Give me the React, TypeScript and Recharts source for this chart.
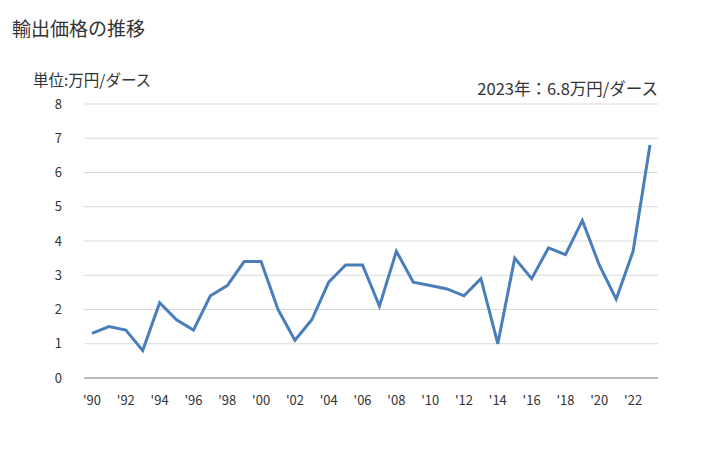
import * as React from "react";
import { LineChart, Line, XAxis, YAxis, CartesianGrid } from "recharts";

const years = [
  "1990", "1991", "1992", "1993", "1994", "1995", "1996", "1997", "1998", "1999",
  "2000", "2001", "2002", "2003", "2004", "2005", "2006", "2007", "2008", "2009",
  "2010", "2011", "2012", "2013", "2014", "2015", "2016", "2017", "2018", "2019",
  "2020", "2021", "2022", "2023",
];
const prices = [
  1.3, 1.5, 1.4, 0.8, 2.2, 1.7, 1.4, 2.4, 2.7, 3.4,
  3.4, 2.0, 1.1, 1.7, 2.8, 3.3, 3.3, 2.1, 3.7, 2.8,
  2.7, 2.6, 2.4, 2.9, 1.0, 3.5, 2.9, 3.8, 3.6, 4.6,
  3.3, 2.3, 3.7, 6.8,
];
const yTicks = [0, 1, 2, 3, 4, 5, 6, 7, 8];

const data = years.map((y, i) => ({ year: y, price: prices[i] }));

const font = '"Noto Sans CJK JP", "Noto Sans", sans-serif';
const textColor = "#333";

export default function App() {
  return (
    <div style={{ position: "absolute", left: 0, top: 0, width: 728, height: 450, background: "#fff", fontFamily: font, color: textColor }}>
      <div style={{ position: "absolute", left: 12, top: 18, fontSize: 19, lineHeight: 1 }}>輸出価格の推移</div>
      <div style={{ position: "absolute", left: 33, top: 72, fontSize: 15.5, lineHeight: 1 }}>単位:万円/ダース</div>
      <div style={{ position: "absolute", right: 70, top: 80, fontSize: 16.5, lineHeight: 1 }}>2023年：6.8万円/ダース</div>
      <LineChart width={728} height={450} data={data} margin={{ top: 104, right: 70, bottom: 0, left: 0 }}>
        <CartesianGrid vertical={false} stroke="#d9d9d9" />
        <XAxis
          dataKey="year"
          interval={1}
          padding={{ left: 8, right: 8 }}
          tickLine={false}
          axisLine={{ stroke: "#888" }}
          tickMargin={12}
          height={72}
          tickFormatter={(v: string) => "'" + v.slice(2)}
          tick={{ fill: textColor, fontSize: 13, fontFamily: font }}
        />
        <YAxis
          domain={[0, 8]}
          ticks={yTicks}
          width={84}
          tickLine={false}
          axisLine={false}
          tickMargin={16}
          tick={{ fill: textColor, fontSize: 13, fontFamily: font }}
        />
        <Line
          type="linear"
          dataKey="price"
          stroke="#4a7ebb"
          strokeWidth={3}
          dot={false}
          isAnimationActive={false}
        />
      </LineChart>
    </div>
  );
}
